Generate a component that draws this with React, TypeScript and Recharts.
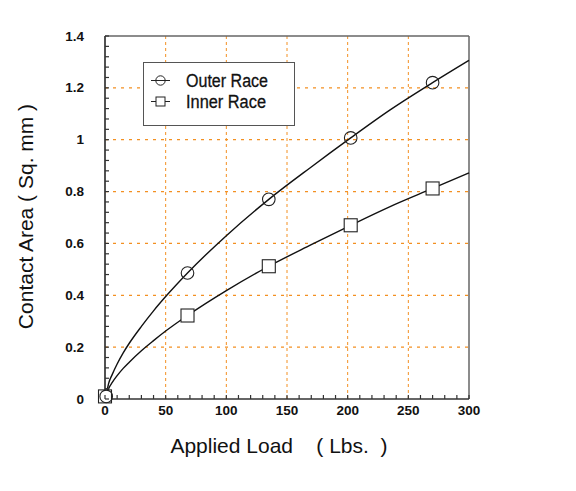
import React from "react";
import {
  ComposedChart,
  Line,
  XAxis,
  YAxis,
  ReferenceLine,
  Legend,
} from "recharts";

// ---- data ----
const outerLoads = [1, 68, 135, 202.5, 270];
const outerArea = [0.01, 0.486, 0.77, 1.007, 1.22];
const innerLoads = [0, 68, 135, 202.5, 270];
const innerArea = [0.01, 0.322, 0.512, 0.67, 0.812];

// fitted curves
const curveLoads = [1, 3, 6, 10, 15, 20, 30, 40, 50, 68, 100, 135, 170, 202.5, 235, 270, 300];
const outerCurve = [0.015, 0.06, 0.095, 0.135, 0.178, 0.215, 0.28, 0.34, 0.395, 0.486, 0.63, 0.77, 0.895, 1.007, 1.115, 1.22, 1.306];
const innerCurve = [0.012, 0.04, 0.064, 0.09, 0.118, 0.142, 0.186, 0.225, 0.262, 0.322, 0.418, 0.512, 0.595, 0.67, 0.742, 0.812, 0.872];

// axis ticks
const xTicks = [0, 10, 20, 30, 40, 50, 60, 70, 80, 90, 100, 110, 120, 130, 140, 150, 160, 170, 180, 190, 200, 210, 220, 230, 240, 250, 260, 270, 280, 290, 300];
const xLabels = [0, 50, 100, 150, 200, 250, 300];
const yTicks = [0, 0.04, 0.08, 0.12, 0.16, 0.2, 0.24, 0.28, 0.32, 0.36, 0.4, 0.44, 0.48, 0.52, 0.56, 0.6, 0.64, 0.68, 0.72, 0.76, 0.8, 0.84, 0.88, 0.92, 0.96, 1, 1.04, 1.08, 1.12, 1.16, 1.2, 1.24, 1.28, 1.32, 1.36, 1.4];
const yLabels = [0, 0.2, 0.4, 0.6, 0.8, 1, 1.2, 1.4];
const yLabelText = ["0", "0.2", "0.4", "0.6", "0.8", "1", "1.2", "1.4"];
const xGrid = [50, 100, 150, 200, 250];
const yGrid = [0.2, 0.4, 0.6, 0.8, 1, 1.2];

const seriesNames = ["Outer Race", "Inner Race"];
const xTitle = "Applied Load    ( Lbs.  )";
const yTitle = "Contact Area ( Sq. mm )";

// ---- build tables ----
const outerPts = outerLoads.map((x, i) => ({ x, y: outerArea[i] }));
const innerPts = innerLoads.map((x, i) => ({ x, y: innerArea[i] }));
const outerLine = curveLoads.map((x, i) => ({ x, y: outerCurve[i] }));
const innerLine = curveLoads.map((x, i) => ({ x, y: innerCurve[i] }));

const FONT = "'Liberation Sans', Arial, Helvetica, sans-serif";
const GRID = "#f39022";
const AXIS = "#333";

const XTick = (props: any) => {
  const { x, y, payload } = props;
  const v = payload.value;
  const isMajor = xLabels.some((l) => Math.abs(l - v) < 1e-6);
  return (
    <g>
      <line x1={x} y1={y} x2={x} y2={y - 4} stroke={AXIS} strokeWidth={1.2} />
      {isMajor && (
        <text x={x} y={y + 16} textAnchor="middle" fontFamily={FONT} fontWeight="bold" fontSize={13.5} fill="#111">
          {String(v)}
        </text>
      )}
    </g>
  );
};

const YTick = (props: any) => {
  const { x, y, payload } = props;
  const v = payload.value;
  const idx = yLabels.findIndex((l) => Math.abs(l - v) < 1e-6);
  return (
    <g>
      <line x1={x} y1={y} x2={x + 4} y2={y} stroke={AXIS} strokeWidth={1.2} />
      {idx >= 0 && (
        <text x={x - 21} y={y + 4.5} textAnchor="end" fontFamily={FONT} fontWeight="bold" fontSize={13.5} fill="#111">
          {yLabelText[idx]}
        </text>
      )}
    </g>
  );
};

const XTitle = (props: any) => {
  const vb = props.viewBox || { x: 0, y: 0, width: 0, height: 0 };
  return (
    <text
      x={vb.x + vb.width / 2 - 8}
      y={vb.y + 54}
      textAnchor="middle"
      fontFamily={FONT}
      fontSize={21}
      fill="#111"
      style={{ whiteSpace: "pre" }}
    >
      {xTitle}
    </text>
  );
};

const YTitle = (props: any) => {
  const vb = props.viewBox || { x: 0, y: 0, width: 0, height: 0 };
  const cx = vb.x + 25;
  const cy = vb.y + vb.height / 2 - 1;
  return (
    <text
      x={cx}
      y={cy}
      transform={`rotate(-90 ${cx} ${cy})`}
      textAnchor="middle"
      dominantBaseline="central"
      fontFamily={FONT}
      fontSize={21}
      fill="#111"
      style={{ whiteSpace: "pre" }}
    >
      {yTitle}
    </text>
  );
};

const renderCircle = (props: any) => {
  const { cx, cy, index } = props;
  if (cx == null || cy == null || isNaN(cx) || isNaN(cy)) return <g key={"c" + index} />;
  return <circle key={"c" + index} cx={cx} cy={cy} r={6.3} fill="none" stroke="#222" strokeWidth={1.1} />;
};
const renderSquare = (props: any) => {
  const { cx, cy, index } = props;
  if (cx == null || cy == null || isNaN(cx) || isNaN(cy)) return <g key={"s" + index} />;
  return (
    <rect key={"s" + index} x={cx - 6.5} y={cy - 6.5} width={13} height={13} fill="#fff" stroke="#222" strokeWidth={1.1} />
  );
};

const LegendBox = () => (
  <div style={{ width: 152, height: 64, border: "1.5px solid #555", background: "#fff", boxSizing: "border-box" }}>
    <svg width={150} height={61} style={{ display: "block" }}>
      <line x1={7} y1={17.5} x2={26} y2={17.5} stroke="#222" strokeWidth={1} />
      <circle cx={16.5} cy={17.5} r={4.7} fill="none" stroke="#222" strokeWidth={1} />
      <text x={42} y={23.5} fontFamily={FONT} fontSize={18} fill="#111" textLength={82} lengthAdjust="spacingAndGlyphs" stroke="#111" strokeWidth={0.3}>
        {seriesNames[0]}
      </text>
      <line x1={7} y1={38.5} x2={26} y2={38.5} stroke="#222" strokeWidth={1} />
      <rect x={12} y={34} width={9} height={9} fill="#fff" stroke="#222" strokeWidth={1} />
      <text x={42} y={44.5} fontFamily={FONT} fontSize={18} fill="#111" textLength={80} lengthAdjust="spacingAndGlyphs" stroke="#111" strokeWidth={0.3}>
        {seriesNames[1]}
      </text>
    </svg>
  </div>
);

export default function App() {
  return (
    <div style={{ position: "absolute", left: 0, top: 0, width: 576, height: 491, background: "#fff" }}>
      <ComposedChart width={576} height={491} margin={{ top: 36, right: 107, bottom: 62, left: 0 }}>
        <XAxis
          type="number"
          dataKey="x"
          domain={[0, 300]}
          ticks={xTicks}
          interval={0}
          height={30}
          tickSize={0}
          tickMargin={0}
          tickLine={false}
          tick={<XTick />}
          axisLine={{ stroke: AXIS, strokeWidth: 1.7 }}
          label={<XTitle />}
        />
        <YAxis
          type="number"
          dataKey="y"
          domain={[0, 1.4]}
          ticks={yTicks}
          interval={0}
          width={105}
          tickSize={0}
          tickMargin={0}
          tickLine={false}
          tick={<YTick />}
          axisLine={{ stroke: AXIS, strokeWidth: 1.7 }}
          label={<YTitle />}
        />
        {xGrid.map((g) => (
          <ReferenceLine key={"xg" + g} x={g} stroke={GRID} strokeWidth={1} strokeDasharray="3 3" />
        ))}
        {yGrid.map((g) => (
          <ReferenceLine key={"yg" + g} y={g} stroke={GRID} strokeWidth={1.3} strokeDasharray="3 5" />
        ))}
        <ReferenceLine y={1.4} stroke="#666" strokeWidth={1.5} />
        <ReferenceLine x={300} stroke="#666" strokeWidth={1.5} />
        <Line data={outerLine} dataKey="y" type="monotone" stroke="#111" strokeWidth={1.4} dot={false} isAnimationActive={false} name={seriesNames[0]} legendType="none" />
        <Line data={innerLine} dataKey="y" type="monotone" stroke="#111" strokeWidth={1.4} dot={false} isAnimationActive={false} name={seriesNames[1]} legendType="none" />
        <Line data={innerPts} dataKey="y" stroke="none" dot={renderSquare} activeDot={false} isAnimationActive={false} name={seriesNames[1]} />
        <Line data={outerPts} dataKey="y" stroke="none" dot={renderCircle} activeDot={false} isAnimationActive={false} name={seriesNames[0]} />
        <Legend
          layout="horizontal"
          verticalAlign="middle"
          align="center"
          content={<LegendBox />}
          wrapperStyle={{ position: "absolute", left: 143, top: 62, width: 152, height: 64 }}
        />
      </ComposedChart>
    </div>
  );
}
